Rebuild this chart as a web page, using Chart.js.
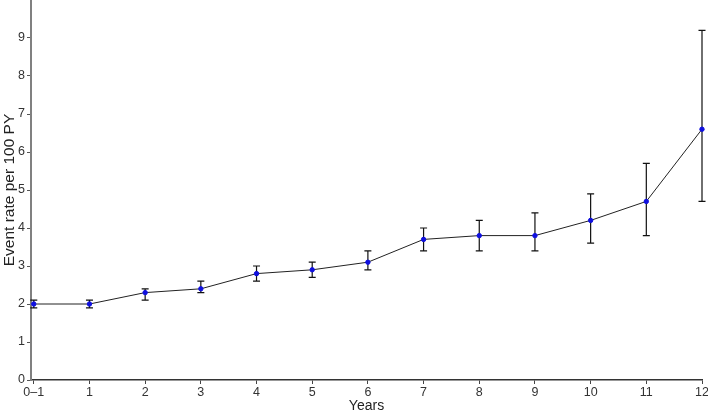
<!DOCTYPE html>
<html>
<head>
<meta charset="utf-8">
<script src="https://cdn.jsdelivr.net/npm/chart.js@4"></script>
<style>
  html, body { margin: 0; padding: 0; background: #fff; }
  #wrap { width: 708px; height: 415px; }
</style>
</head>
<body>
<div id="wrap"><canvas id="rate-chart"></canvas></div>
<script>
const years = [0, 1, 2, 3, 4, 5, 6, 7, 8, 9, 10, 11, 12];
const yearLabels = ['0–1', '1', '2', '3', '4', '5', '6', '7', '8', '9', '10', '11', '12'];
const eventRate = [2.0, 2.0, 2.3, 2.4, 2.8, 2.9, 3.1, 3.7, 3.8, 3.8, 4.2, 4.7, 6.6];
const lowerCI = [1.9, 1.9, 2.1, 2.3, 2.6, 2.7, 2.9, 3.4, 3.4, 3.4, 3.6, 3.8, 4.7];
const upperCI = [2.1, 2.1, 2.4, 2.6, 3.0, 3.1, 3.4, 4.0, 4.2, 4.4, 4.9, 5.7, 9.2];
const yTicks = [0, 1, 2, 3, 4, 5, 6, 7, 8, 9];

// whiskers drawn under the points
const errorBars = {
  id: 'errorBars',
  beforeDatasetsDraw(chart) {
    const { ctx, scales: { x, y } } = chart;
    ctx.save();
    ctx.strokeStyle = '#111';
    ctx.lineWidth = 1.2;
    years.forEach((yr, i) => {
      const px = x.getPixelForValue(yr);
      const top = y.getPixelForValue(upperCI[i]);
      const bot = y.getPixelForValue(lowerCI[i]);
      ctx.beginPath();
      ctx.moveTo(px, top); ctx.lineTo(px, bot);
      ctx.moveTo(px - 3.5, top); ctx.lineTo(px + 3.5, top);
      ctx.moveTo(px - 3.5, bot); ctx.lineTo(px + 3.5, bot);
      ctx.stroke();
    });
    ctx.restore();
  }
};

const tickFont = { family: 'Liberation Sans, Arial, sans-serif', size: 12.5 };

new Chart(document.getElementById('rate-chart').getContext('2d'), {
  type: 'line',
  data: {
    datasets: [{
      data: years.map((yr, i) => ({ x: yr, y: eventRate[i] })),
      borderColor: '#222',
      borderWidth: 1,
      pointBackgroundColor: '#1010e0',
      pointBorderColor: '#1010e0',
      pointRadius: 2.2,
      tension: 0
    }]
  },
  options: {
    responsive: true,
    maintainAspectRatio: false,
    animation: false,
    clip: false,
    layout: { autoPadding: false, padding: { top: 0, right: 6, left: 0, bottom: 0 } },
    plugins: { legend: { display: false }, tooltip: { enabled: false } },
    scales: {
      x: {
        type: 'linear',
        min: -0.05,
        max: 12,
        afterBuildTicks: s => { s.ticks = years.map(v => ({ value: v })); },
        afterFit: s => { s.height = 35; s.paddingLeft = 0; s.paddingRight = 0; },
        ticks: {
          color: '#333',
          font: tickFont,
          padding: 1,
          maxRotation: 0,
          callback: (v) => yearLabels[years.indexOf(v)]
        },
        grid: { display: true, drawOnChartArea: false, tickLength: 4, color: '#444' },
        border: { color: '#333', width: 1.5 },
        title: {
          display: true,
          text: 'Years',
          color: '#222',
          font: { family: 'Liberation Sans, Arial, sans-serif', size: 14 },
          padding: { top: 0, bottom: 0 }
        }
      },
      y: {
        min: 0,
        max: 10,
        afterBuildTicks: s => { s.ticks = yTicks.map(v => ({ value: v })); },
        afterFit: s => { s.width = 31; s.paddingTop = 0; s.paddingBottom = 0; },
        ticks: {
          color: '#333',
          font: tickFont,
          padding: 2
        },
        grid: { display: true, drawOnChartArea: false, tickLength: 4, color: '#555' },
        border: { color: '#808080', width: 2 },
        title: {
          display: true,
          text: 'Event rate per 100 PY',
          color: '#222',
          font: { family: 'Liberation Sans, Arial, sans-serif', size: 15.5 },
          padding: { top: 0, bottom: 1 }
        }
      }
    }
  },
  plugins: [errorBars]
});
</script>
</body>
</html>
